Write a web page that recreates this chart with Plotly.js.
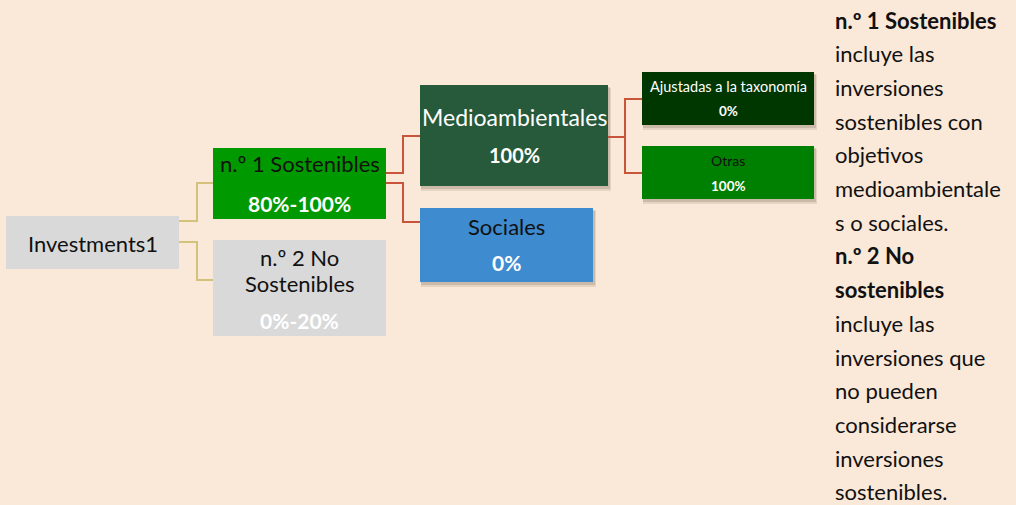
<!DOCTYPE html>
<html>
<head>
<meta charset="utf-8">
<script src="https://cdn.plot.ly/plotly-3.0.1.min.js"></script>
<style>html,body{margin:0;padding:0;background:#FAE8D8;}#chart{width:1016px;height:505px;}</style>
</head>
<body>
<div id="chart"></div>
<script>
// ---- data ----
const nodeNames = ["Investments1", "n.º 1 Sostenibles", "n.º 2 No<br>Sostenibles", "Medioambientales", "Sociales", "Ajustadas a la taxonomía", "Otras"];
const nodeShares = ["", "80%-100%", "0%-20%", "100%", "0%", "0%", "100%"];
const nodeParents = [-1, 0, 0, 1, 1, 3, 3];
const noteLines = [
  ["n.º 1 Sostenibles", true],
  ["incluye las", false],
  ["inversiones", false],
  ["sostenibles con", false],
  ["objetivos", false],
  ["medioambientale", false],
  ["s o sociales.", false],
  ["n.º 2 No", true],
  ["sostenibles", true],
  ["incluye las", false],
  ["inversiones que", false],
  ["no pueden", false],
  ["considerarse", false],
  ["inversiones", false],
  ["sostenibles.", false]
];

// ---- layout geometry (pixel coordinates on a 1016x505 canvas) ----
const boxGeom = [
  [6, 216, 179, 269],
  [213, 148, 386, 219],
  [213, 240, 386, 336],
  [420, 85, 608, 186],
  [420, 208, 593, 282],
  [642, 72, 814, 125],
  [642, 146, 814, 199]
];
const boxFill = ["#D9D9D9", "#009900", "#D9D9D9", "#265A3A", "#3E8BD0", "#003700", "#008000"];
const nameColor = ["#111", "#111", "#111", "#FFFFFF", "#111", "#FFFFFF", "#111"];
const nameSize = [22, 22, 22, 23, 22, 14.5, 14];
const shareSize = [0, 21, 21, 20, 21, 13.5, 13.5];
const nameY = [243, 163, 270, 117, 226, 86, 160];
const shareY = [0, 203, 320, 155, 262, 111, 186];
const shadowed = [false, false, false, true, true, true, true];
// connectors: [exitY, midX, entryY, color]
const connGeom = {
  1: [221, 197, 183, "#D4C27C"],
  2: [242, 197, 280, "#D4C27C"],
  3: [173, 403, 136, "#C8553A"],
  4: [183, 403, 222, "#C8553A"],
  5: [137, 625, 99, "#C8553A"],
  6: [137, 625, 173, "#C8553A"]
};
const FONT = "Lato, 'Open Sans', sans-serif";

const shapes = [];
const annotations = [];

nodeNames.forEach((name, i) => {
  const [x0, y0, x1, y1] = boxGeom[i];
  if (shadowed[i]) {
    shapes.push({type: "rect", xref: "x", yref: "y", x0: x0 + 1, y0: y0 + 3, x1: x1 + 3, y1: y1 + 5,
      fillcolor: "rgba(90,70,50,0.12)", line: {width: 0}, layer: "below"});
    shapes.push({type: "rect", xref: "x", yref: "y", x0: x0 + 1, y0: y0 + 2, x1: x1 + 2, y1: y1 + 3,
      fillcolor: "rgba(90,70,50,0.18)", line: {width: 0}, layer: "below"});
  }
  shapes.push({type: "rect", xref: "x", yref: "y", x0, y0, x1, y1, fillcolor: boxFill[i], line: {width: 0}, layer: "above"});
  const cx = (x0 + x1) / 2;
  if (i === 2) {
    const parts = name.split("<br>");
    annotations.push({x: cx, y: 257, text: parts[0], showarrow: false, xanchor: "center", yanchor: "middle",
      font: {family: FONT, size: nameSize[i], color: nameColor[i]}});
    annotations.push({x: cx, y: 283, text: parts[1], showarrow: false, xanchor: "center", yanchor: "middle",
      font: {family: FONT, size: nameSize[i], color: nameColor[i]}});
  } else {
    annotations.push({x: cx, y: nameY[i], text: name, showarrow: false, xanchor: "center", yanchor: "middle",
      font: {family: FONT, size: nameSize[i], color: nameColor[i]}});
  }
  if (nodeShares[i]) {
    annotations.push({x: cx, y: shareY[i], text: "<b>" + nodeShares[i] + "</b>", showarrow: false, xanchor: "center", yanchor: "middle",
      font: {family: FONT, size: shareSize[i], color: "#FFFFFF"}});
  }
});

nodeParents.forEach((p, c) => {
  if (p < 0) return;
  const [ey, mx, ny, col] = connGeom[c];
  const px = boxGeom[p][2], cxl = boxGeom[c][0];
  shapes.push({type: "path", xref: "x", yref: "y",
    path: `M ${px} ${ey} L ${mx} ${ey} L ${mx} ${ny} L ${cxl} ${ny}`,
    line: {color: col, width: 2}, layer: "below"});
});

noteLines.forEach(([t, bold], k) => {
  annotations.push({x: 833, y: 20 + k * 33.7, text: bold ? "<b>" + t + "</b>" : t, showarrow: false,
    xanchor: "left", yanchor: "middle", font: {family: FONT, size: 22, color: "#111"}});
});

const layout = {
  width: 1016, height: 505,
  margin: {l: 0, r: 0, t: 0, b: 0},
  paper_bgcolor: "#FAE8D8", plot_bgcolor: "#FAE8D8",
  xaxis: {range: [0, 1016], visible: false, fixedrange: true},
  yaxis: {range: [505, 0], visible: false, fixedrange: true},
  shapes, annotations, showlegend: false
};

Plotly.newPlot("chart", [{x: [0], y: [0], mode: "markers", marker: {opacity: 0}, hoverinfo: "skip"}], layout, {staticPlot: true});
</script>
</body>
</html>
